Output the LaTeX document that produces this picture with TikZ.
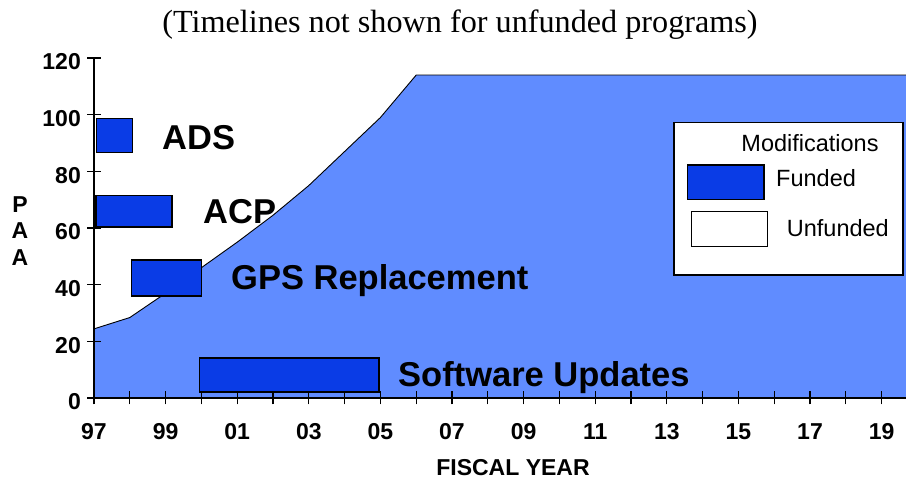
\documentclass[tikz,border=0pt]{standalone}
\usepackage{fontspec}
\setmainfont{Liberation Sans}
\newfontfamily\titlefont{Liberation Serif}
\definecolor{areablue}{RGB}{96,140,255}
\definecolor{barblue}{RGB}{10,60,230}
\tikzset{
  fundedbar/.style={fill=barblue, draw=black, line width=1.6pt},
  prog/.style={font=\fontsize{34.5}{38}\selectfont\bfseries, anchor=base west, inner sep=0pt},
  ticklbl/.style={font=\fontsize{23}{26}\selectfont\bfseries, inner sep=0pt},
  legendtxt/.style={font=\fontsize{23.5}{26}\selectfont, anchor=base west, inner sep=0pt},
}
\begin{document}
\begin{tikzpicture}[x=1pt,y=1pt]
\useasboundingbox (0,0) rectangle (906,482);

% title
\node[font=\titlefont\fontsize{32.2}{36}\selectfont, anchor=base, inner sep=0pt] (title) at (460,449) {(Timelines not shown for unfunded programs)};

% data region: x in years after 1997, y in PAA
\begin{scope}[shift={(94,84)}, x=35.8pt, y=2.833pt]
  % PAA envelope
  \fill[areablue] (0,0) -- (0,24.4) -- (1,28.4) -- (2,37) -- (3,46) -- (4,55) -- (5,64.5)
     -- (6,75) -- (7,87) -- (8,99) -- (9,114) -- (22.7,114) -- (22.7,0) -- cycle;
  \draw[line width=0.9pt] (0,24.4) -- (1,28.4) -- (2,37) -- (3,46) -- (4,55) -- (5,64.5)
     -- (6,75) -- (7,87) -- (8,99) -- (9,114) -- (22.7,114);

  % axes
  \draw[line width=1.3pt] (0,120) -- (0,0) -- (22.7,0);
  \foreach \v in {0,20,...,120} {
    \draw[line width=1.1pt] ([xshift=-7pt]0,\v) -- ([xshift=7pt]0,\v);
    \node[ticklbl, anchor=east] at ([xshift=-13pt,yshift=-4pt]0,\v) {\v};
  }
  \foreach \t in {0,...,22} {
    \draw[line width=1.1pt] ([yshift=-6.5pt]\t,0) -- ([yshift=6.5pt]\t,0);
  }
  \foreach \t/\l in {0/97,2/99,4/01,6/03,8/05,10/07,12/09,14/11,16/13,18/15,20/17,22/19} {
    \node[ticklbl] at ([yshift=-33.5pt]\t,0) {\l};
  }

  % funded modifications
  \draw[fundedbar] (0.075,86.7) rectangle (1.08,98.6);
  \draw[fundedbar] (0.056,60.4) rectangle (2.18,71.5);
  \draw[fundedbar] (1.05,36.1) rectangle (3.0,48.7);
  \draw[fundedbar] (2.95,2.1) rectangle (7.96,14.2);
\end{scope}

% program labels
\node[prog] (ads) at (162,332) {ADS};
\node[prog] (acp) at (203,258.5) {ACP};
\node[prog] (gps) at (231,192) {GPS Replacement};
\node[prog] (sw) at (398,95) {Software Updates};

% axis titles
\node[ticklbl] (fy) at (513,14) {FISCAL YEAR};
\node[ticklbl] (p) at (20,277) {P};
\node[ticklbl] (a1) at (20,251) {A};
\node[ticklbl] (a2) at (20,224.5) {A};

% legend
\draw[fill=white, line width=1.4pt] (674,359.3) rectangle (903,207);
\node[font=\fontsize{23.5}{26}\selectfont, inner sep=0pt] (legtitle) at (810,338.5) {Modifications};
\draw[fundedbar, line width=1.3pt] (687.7,317) rectangle (764,282.7);
\node[legendtxt] (funded) at (776,295.6) {Funded};
\draw[fill=white, line width=1.3pt] (691.7,270.3) rectangle (767.7,235.3);
\node[legendtxt] (unfunded) at (786.7,245.6) {Unfunded};
\end{tikzpicture}
\end{document}
